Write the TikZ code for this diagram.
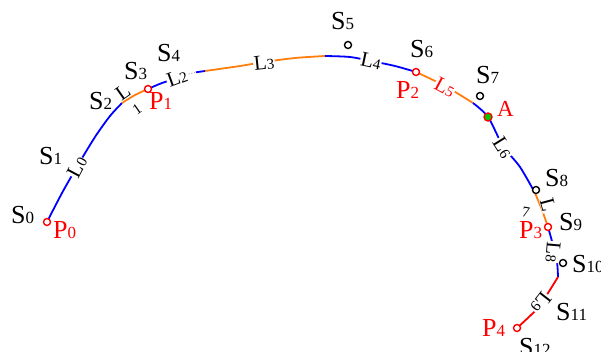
\documentclass[tikz,border=0pt]{standalone}
\usepackage{fontspec}
\setmainfont{Liberation Serif}
\definecolor{segblue}{RGB}{0,0,255}
\definecolor{segorange}{RGB}{255,127,14}
\definecolor{segred}{RGB}{255,0,0}
\definecolor{ptgreen}{RGB}{0,200,0}
\newcommand\ptname[2]{{\fontsize{26}{26}\selectfont #1}{\fontsize{17}{17}\selectfont #2}}
\newcommand\seglbl[2]{{\fontsize{21}{21}\selectfont #1}{\fontsize{15}{15}\selectfont #2}}
\begin{document}
\begin{tikzpicture}[x=1pt,y=-1pt,
  seg/.style={line width=1.8pt},
  ctrl/.style={circle,draw=black,fill=white,line width=1.4pt,inner sep=0pt,minimum size=7pt},
  knot/.style={circle,draw=segred,fill=white,line width=1.4pt,inner sep=0pt,minimum size=7pt},
  slbl/.style={anchor=base west,inner sep=0pt,text=black},
  plbl/.style={anchor=base west,inner sep=0pt,text=segred},
  onpath/.style={fill=white,inner sep=0.6pt}]
\useasboundingbox (0,0) rectangle (601,352);

% curve, piece by piece
\draw[seg,segblue]   plot[smooth] coordinates {(47,222) (62,193) (78,165) (95,137) (110,116) (122,103)};
\draw[seg,segorange] plot[smooth] coordinates {(122,103) (135,95) (148,89)};
\draw[seg,segblue]   plot[smooth] coordinates {(148,89) (162,83) (178,78) (186,75)};
\draw[gray,line width=0.8pt,dotted] (186,74.5) -- (196,72.5);
\draw[seg,segblue]   (196,72.3) -- (205,71);
\draw[seg,segorange] plot[smooth] coordinates {(205,71) (240,66) (264,62) (295,58) (325,56)};
\draw[seg,segblue]   plot[smooth] coordinates {(325,56) (350,57) (371,61) (395,66) (416,72)};
\draw[seg,segorange] plot[smooth] coordinates {(416,72) (445,86) (473,103)};
\draw[seg,segblue]   plot[smooth] coordinates {(473,103) (488,117) (503,146) (520,167) (535,193)};
\draw[seg,segorange] plot[smooth] coordinates {(535,193) (542,210) (548,227)};
\draw[seg,segblue]   plot[smooth] coordinates {(548,227) (553,245) (557,262) (558,277)};
\draw[seg,segred]    plot[smooth] coordinates {(558,277) (548,293) (538,308) (517,328)};

% segment labels
\node[onpath,rotate=62]   (l0)  at (77,167)  {\seglbl{L}{0}};
\node[onpath,rotate=35]   (l1a) at (123,92)  {\fontsize{21}{21}\selectfont L};
\node[onpath,rotate=35]   (l1b) at (137,109) {\fontsize{15}{15}\selectfont 1};
\node[onpath,rotate=20]   (l2)  at (177,78)  {\seglbl{L}{2}};
\node[onpath,rotate=6]    (l3)  at (264,63)  {\seglbl{L}{3}};
\node[onpath,rotate=-12]  (l4)  at (371,61)  {\seglbl{L}{4}};
\node[onpath,rotate=-28,text=segred] (l5) at (445,87) {\seglbl{L}{5}};
\node[onpath,rotate=-58]  (l6)  at (503,148) {\seglbl{L}{6}};
\node[onpath,rotate=-75]  (l7a) at (548,205) {\fontsize{21}{21}\selectfont L};
\node[inner sep=0pt,rotate=-10] (l7b) at (526,212) {\fontsize{15}{15}\selectfont 7};
\node[onpath,rotate=-95]  (l8)  at (553,252) {\seglbl{L}{8}};
\node[onpath,rotate=-128] (l9)  at (541,303) {\seglbl{L}{9}};

% control points
\node[ctrl] (c5)  at (348,45)  {};
\node[ctrl] (c7)  at (480,96)  {};
\node[ctrl] (c8)  at (536,190) {};
\node[ctrl] (c10) at (563,263) {};

% knots and the marked point
\node[knot] (p0) at (47,222)  {};
\node[knot] (p1) at (148,89)  {};
\node[knot] (p2) at (416,72)  {};
\node[knot] (p3) at (548,227) {};
\node[knot] (p4) at (517,328) {};
\node[circle,draw=segred,fill=ptgreen,line width=1.4pt,inner sep=0pt,minimum size=8pt] (a) at (488,117) {};

% control point names
\node[slbl] (s0)  at (11,224)  {\ptname{S}{0}};
\node[slbl] (s1)  at (39,165)  {\ptname{S}{1}};
\node[slbl] (s2)  at (89,110)  {\ptname{S}{2}};
\node[slbl] (s3)  at (124,80)  {\ptname{S}{3}};
\node[slbl] (s4)  at (157,62)  {\ptname{S}{4}};
\node[slbl] (s5)  at (331,30)  {\ptname{S}{5}};
\node[slbl] (s6)  at (410,58)  {\ptname{S}{6}};
\node[slbl] (s7)  at (476,84)  {\ptname{S}{7}};
\node[slbl] (s8)  at (545,187) {\ptname{S}{8}};
\node[slbl] (s9)  at (559,230) {\ptname{S}{9}};
\node[slbl] (s10) at (572,272) {\ptname{S}{10}};
\node[slbl] (s11) at (556,320) {\ptname{S}{11}};
\node[slbl] (s12) at (519,355) {\ptname{S}{12}};

% knot names
\node[plbl] (tp0) at (53,238)  {\ptname{P}{0}};
\node[plbl] (tp1) at (149,110) {\ptname{P}{1}};
\node[plbl] (tp2) at (396,99)  {\ptname{P}{2}};
\node[plbl] (tp3) at (519,239) {\ptname{P}{3}};
\node[plbl] (tp4) at (482,336) {\ptname{P}{4}};
\node[plbl] (ta)  at (497,117) {\fontsize{23}{23}\selectfont A};
\end{tikzpicture}
\end{document}
